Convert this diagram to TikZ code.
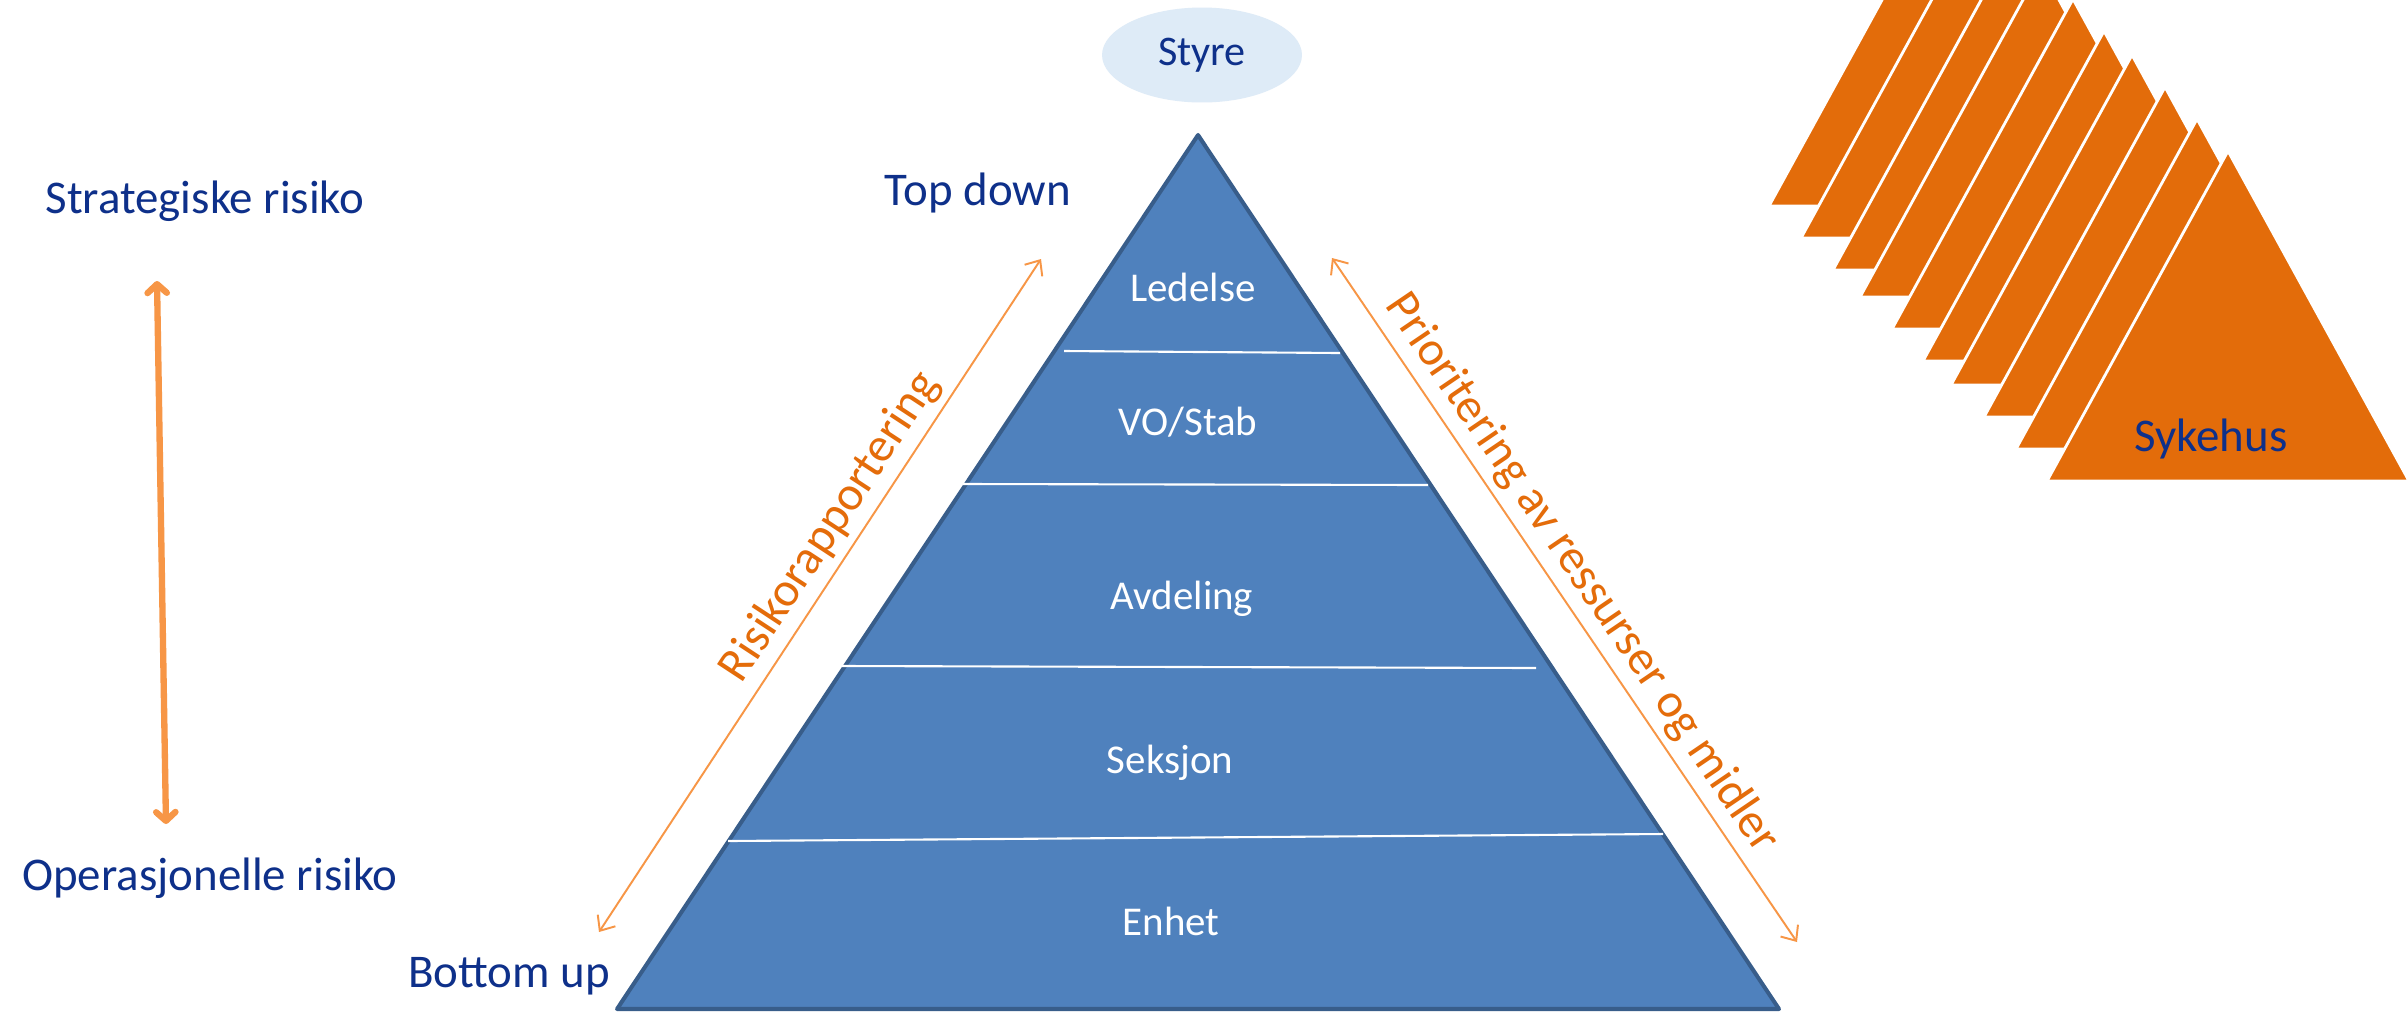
\documentclass[tikz,border=0pt]{standalone}
\usepackage{fontspec}
\setmainfont{Carlito}
\usetikzlibrary{arrows.meta,shapes.geometric}
\definecolor{navy}{RGB}{14,48,138}
\definecolor{pyrfill}{RGB}{79,129,189}
\definecolor{pyredge}{RGB}{56,93,138}
\definecolor{orangeA}{RGB}{247,150,70}
\definecolor{orangeT}{RGB}{228,108,10}
\definecolor{stackor}{RGB}{227,108,10}
\definecolor{ellfill}{RGB}{222,235,247}
\begin{document}
\begin{tikzpicture}[x=0.02cm,y=-0.02cm,
  bigtext/.style={text=navy,font=\fontsize{26.7}{30}\selectfont,inner sep=0pt},
  lvl/.style={text=white,font=\fontsize{23.3}{27}\selectfont,inner sep=0pt},
  rottext/.style={text=orangeT,font=\fontsize{27.5}{31}\selectfont,inner sep=1pt},
  thinarrow/.style={draw=orangeA,line width=1.1pt,{Straight Barb[length=7pt,width=12pt]}-{Straight Barb[length=7pt,width=12pt]}},
  thickarrow/.style={draw=orangeA,line width=3.6pt,line cap=round,{Straight Barb[length=5pt,width=11pt,round]}-{Straight Barb[length=5pt,width=11pt,round]}},
  stackpiece/.style={fill=stackor,draw=white,line width=1.6pt},
  divider/.style={draw=white,line width=1.2pt}]
\useasboundingbox (0,0) rectangle (2407,1012);
\fill[white] (0,0) rectangle (2407,1012);

% Sykehus stack
\begin{scope}
\clip (0,0) rectangle (2407,1012);
\foreach \bx/\by in {1769/206,1801/238,1833/270,1860/297,1892/329,1923/361,1951/385,1984/417,2016/449,2047/481}{
  \filldraw[stackpiece] (\bx,\by) -- ++(181,-330) -- ++(181,330) -- cycle;
}
\end{scope}
\node[bigtext] (syk) at (2211,439) {Sykehus};

% Pyramid
\coordinate (apex) at (1198,135);
\coordinate (bl) at (617,1009);
\coordinate (br) at (1779,1009);
\filldraw[fill=pyrfill,draw=pyredge,line width=2.3pt,line join=round] (apex) -- (bl) -- (br) -- cycle;
\draw[divider] (1064,351) -- (1340,353);
\draw[divider] (963,484) -- (1428,485);
\draw[divider] (842,666) -- (1536,668);
\draw[divider] (728,841) -- (1663,834);

\node[lvl] (led) at (1193,287) {Ledelse};
\node[lvl] (vo) at (1188,422) {VO/Stab};
\node[lvl] (avd) at (1182,599) {Avdeling};
\node[lvl] (sek) at (1170,763) {Seksjon};
\node[lvl] (enh) at (1171,921) {Enhet};

% Styre
\node[ellipse,fill=ellfill,minimum width=4cm,minimum height=1.9cm,text=navy,font=\fontsize{24}{28}\selectfont] (styre) at (1202,55) {Styre};

% Side labels
\node[bigtext] (strat) at (205,201) {Strategiske risiko};
\node[bigtext] (oper) at (210,878) {Operasjonelle risiko};
\node[bigtext] (top) at (978,193) {Top down};
\node[bigtext] (bot) at (509,976) {Bottom up};

% Left vertical arrow
\coordinate (la1) at (157,281);
\coordinate (la2) at (166,824);
\draw[thickarrow] (la1) -- (la2);

% Diagonal arrows
\coordinate (ra1) at (599,932);
\coordinate (ra2) at (1041,259);
\draw[thinarrow] (ra1) -- (ra2) node[pos=0.578,sloped,above=3pt,rottext] (risk) {Risikorapportering};
\coordinate (pa1) at (1332,258);
\coordinate (pa2) at (1797,942);
\draw[thinarrow] (pa1) -- (pa2) node[pos=0.485,sloped,above=3pt,rottext] (prio) {Prioritering av ressurser og midler};
\end{tikzpicture}
\end{document}
